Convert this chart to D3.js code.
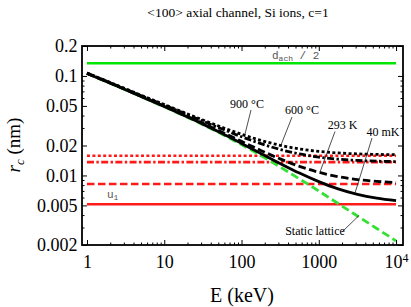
<!DOCTYPE html>
<html>
<head>
<meta charset="utf-8">
<script src="https://cdn.jsdelivr.net/npm/d3@7"></script>
<style>
  body { margin: 0; background: #fff; }
  svg { display: block; }
  text { font-family: "Liberation Serif", "Times New Roman", serif; }
</style>
</head>
<body>
<svg id="chart" width="411" height="307"></svg>
<script>
const energyKeV = [1, 1.778, 3.162, 5.623, 10, 17.78, 31.62, 56.23, 100, 177.8, 316.2, 562.3, 1000, 1778, 3162, 5623, 10000];
const staticLattice = [0.1059, 0.0877, 0.0724, 0.0596, 0.0490, 0.0400, 0.0324, 0.0259, 0.0204, 0.01585, 0.01216, 0.00923, 0.00698, 0.00522, 0.00391, 0.00293, 0.0022];
const rc40mK = [0.1060, 0.0879, 0.0726, 0.0598, 0.0493, 0.0403, 0.0328, 0.0264, 0.0210, 0.01666, 0.0132, 0.01056, 0.00866, 0.00732, 0.00645, 0.00591, 0.00558];
const rc293K = [0.1062, 0.0881, 0.0729, 0.0602, 0.0497, 0.0408, 0.0334, 0.0272, 0.0220, 0.01785, 0.01467, 0.01235, 0.01077, 0.00972, 0.00908, 0.00871, 0.00849];
const rc600C = [0.1068, 0.0888, 0.0737, 0.0611, 0.0509, 0.0423, 0.0351, 0.0293, 0.0245, 0.0209, 0.01824, 0.01644, 0.01529, 0.01457, 0.01415, 0.01391, 0.01378];
const rc900C = [0.1071, 0.0892, 0.0742, 0.0617, 0.0516, 0.0431, 0.0361, 0.0304, 0.0259, 0.0225, 0.0201, 0.01847, 0.01746, 0.01683, 0.01647, 0.01627, 0.01615];

// horizontal reference levels (nm)
const dachHalf = 0.134;
const u1Levels = [0.0158, 0.0136, 0.0082, 0.00513];   // 900 C, 600 C, 293 K, 40 mK
const levelRange = [1, 10000];

// tick labels
const xMajor = [1, 10, 100, 1000, 10000];
const yMajor = [0.2, 0.1, 0.05, 0.02, 0.01, 0.005, 0.002];

const title = "<100> axial channel, Si ions, c=1";

const svg = d3.select("#chart");
const mLeft = 82, mRight = 403, mTop = 46, mBottom = 245;

const x = d3.scaleLog().domain([0.862, 12300]).range([mLeft, mRight]);
const y = d3.scaleLog().domain([0.002, 0.2]).range([mBottom, mTop]);

// minor ticks (2..9 in each decade)
const xMinor = [], yMinor = [];
[1, 10, 100, 1000].forEach(d => { for (let k = 2; k <= 9; k++) xMinor.push(d * k); });
[0.001, 0.01, 0.1].forEach(d => { for (let k = 1; k <= 9; k++) { const v = +(d * k).toPrecision(3); if (v >= 0.002 && v <= 0.2 && !yMajor.includes(v)) yMinor.push(v); } });

// title
svg.append("text")
  .attr("x", 238).attr("y", 17)
  .attr("text-anchor", "middle")
  .style("font-size", "13.5px")
  .text(title);

// styles
const styles = {
  dotted: "3,2.4",
  dashdot: "7,2.4,2.4,2.4",
  dashed: "7.5,3.5"
};

const plot = svg.append("g");

// d_ach / 2
plot.append("line")
  .attr("x1", x(levelRange[0])).attr("x2", x(levelRange[1]))
  .attr("y1", y(dachHalf)).attr("y2", y(dachHalf))
  .attr("stroke", "#00e600").attr("stroke-width", 2.6);

// u1 levels
const levelDash = [styles.dotted, styles.dashdot, styles.dashed, null];
plot.selectAll(".lvl")
  .data(u1Levels)
  .enter().append("line")
  .attr("x1", x(levelRange[0])).attr("x2", x(levelRange[1]))
  .attr("y1", d => y(d)).attr("y2", d => y(d))
  .attr("stroke", "#ff1a1a").attr("stroke-width", 2.6)
  .attr("stroke-dasharray", (d, i) => levelDash[i]);

const line = d3.line()
  .x(d => x(d[0])).y(d => y(d[1]))
  .curve(d3.curveMonotoneX);

// static lattice
plot.append("path")
  .attr("d", line(energyKeV.map((e, i) => [e, staticLattice[i]])))
  .attr("fill", "none").attr("stroke", "#33e033")
  .attr("stroke-width", 2.8).attr("stroke-dasharray", "8,4");

// temperature curves
const curves = [
  { vals: rc900C, dash: styles.dotted },
  { vals: rc600C, dash: styles.dashdot },
  { vals: rc293K, dash: styles.dashed },
  { vals: rc40mK, dash: null }
];
curves.forEach(c => {
  plot.append("path")
    .attr("d", line(energyKeV.map((e, i) => [e, c.vals[i]])))
    .attr("fill", "none").attr("stroke", "#000")
    .attr("stroke-width", 2.8)
    .attr("stroke-dasharray", c.dash);
});

// annotations
const notes = [
  { t: "900 °C", tx: 247, ty: 108, p: [251, 110, 245, 134] },
  { t: "600 °C", tx: 302, ty: 114, p: [292, 117, 281, 145] },
  { t: "293 K", tx: 342.5, ty: 129, p: [335, 131.5, 320, 172] },
  { t: "40 mK", tx: 383, ty: 136, p: [372, 138, 355, 193] },
  { t: "Static lattice", tx: 315, ty: 235, p: [342, 232, 359, 215.5] }
];
notes.forEach(n => {
  svg.append("line")
    .attr("x1", n.p[0]).attr("y1", n.p[1]).attr("x2", n.p[2]).attr("y2", n.p[3])
    .attr("stroke", "#222").attr("stroke-width", 0.8);
  svg.append("text")
    .attr("x", n.tx).attr("y", n.ty)
    .attr("text-anchor", "middle")
    .style("font-size", "12px")
    .text(n.t);
});

// d_ach / 2 and u1 labels
const mono = "'Liberation Mono', 'DejaVu Sans Mono', monospace";
const dl = svg.append("text").attr("x", 272).attr("y", 59)
  .style("font-family", mono).style("font-size", "11px").attr("fill", "#555");
dl.append("tspan").text("d");
dl.append("tspan").attr("dy", 2).style("font-size", "8px").text("ach");
dl.append("tspan").attr("dy", -2).text(" / 2");

const ul = svg.append("text").attr("x", 107).attr("y", 198)
  .style("font-family", mono).style("font-size", "11px").attr("fill", "#555");
ul.append("tspan").text("u");
ul.append("tspan").attr("dy", 2).style("font-size", "8px").text("1");

// axes
function strip(g) { g.select(".domain").remove(); g.selectAll("line").attr("stroke", "#000").attr("stroke-width", 1); }

svg.append("g").attr("transform", `translate(0,${mBottom})`)
  .call(d3.axisBottom(x).tickValues(xMinor).tickSize(-2.5).tickFormat(""))
  .call(strip);
const xb = svg.append("g").attr("transform", `translate(0,${mBottom})`)
  .call(d3.axisBottom(x).tickValues(xMajor).tickSize(-5).tickPadding(10)
    .tickFormat(d => d < 10000 ? d : ""))
  .call(strip);
xb.selectAll("text").style("font-family", "'Liberation Serif', serif").style("font-size", "18px").attr("fill", "#000");
xb.selectAll(".tick").filter(d => d === 10000).select("text")
  .call(t => { t.append("tspan").text("10"); t.append("tspan").attr("dy", "-0.45em").style("font-size", "12px").text("4"); });

svg.append("g").attr("transform", `translate(0,${mTop})`)
  .call(d3.axisTop(x).tickValues(xMinor).tickSize(-2.5).tickFormat("")).call(strip);
svg.append("g").attr("transform", `translate(0,${mTop})`)
  .call(d3.axisTop(x).tickValues(xMajor).tickSize(-5).tickFormat("")).call(strip);

svg.append("g").attr("transform", `translate(${mLeft},0)`)
  .call(d3.axisLeft(y).tickValues(yMinor).tickSize(-2.5).tickFormat("")).call(strip);
const yl = svg.append("g").attr("transform", `translate(${mLeft},0)`)
  .call(d3.axisLeft(y).tickValues(yMajor).tickSize(-5).tickPadding(4.5).tickFormat(d => String(d)))
  .call(strip);
yl.selectAll("text").style("font-family", "'Liberation Serif', serif").style("font-size", "18px").attr("fill", "#000");

svg.append("g").attr("transform", `translate(${mRight},0)`)
  .call(d3.axisRight(y).tickValues(yMinor).tickSize(-2.5).tickFormat("")).call(strip);
svg.append("g").attr("transform", `translate(${mRight},0)`)
  .call(d3.axisRight(y).tickValues(yMajor).tickSize(-5).tickFormat("")).call(strip);

// frame
svg.append("rect")
  .attr("x", mLeft).attr("y", mTop).attr("width", mRight - mLeft).attr("height", mBottom - mTop)
  .attr("fill", "none").attr("stroke", "#000").attr("stroke-width", 1.8);

// axis titles
svg.append("text").attr("x", 242).attr("y", 302)
  .attr("text-anchor", "middle").style("font-size", "20px").text("E (keV)");

const yt = svg.append("text")
  .attr("transform", "translate(20,145) rotate(-90)")
  .attr("text-anchor", "middle").style("font-size", "19px");
yt.append("tspan").style("font-style", "italic").text("r");
yt.append("tspan").attr("dy", 4).style("font-style", "italic").style("font-size", "13px").text("c");
yt.append("tspan").attr("dy", -4).text(" (nm)");
</script>
</body>
</html>
